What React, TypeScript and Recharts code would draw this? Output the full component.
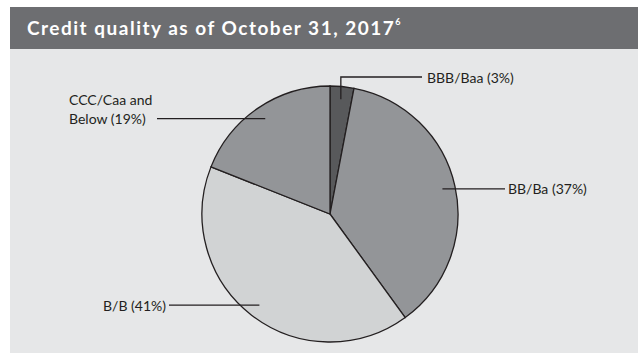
import { PieChart, Pie, Cell } from "recharts";

const names = ["BBB/Baa", "BB/Ba", "B/B", "CCC/Caa and Below"];
const values = [3, 37, 41, 19];
const colors = ["#58595b", "#939598", "#d1d3d4", "#939598"];

// label placement, offsets from the pie centre
const labelLayout = [
  { elbowDy: -137, lineDx: 92, textDx: 97, anchor: "start", wrap: 0 },
  { elbowDy: 0, lineDx: 175, textDx: 178, anchor: "start", wrap: 0 },
  { elbowDy: 0, lineDx: -161, textDx: -164, anchor: "end", wrap: 0 },
  { elbowDy: 0, lineDx: -173, textDx: -261, anchor: "start", wrap: 2 },
];

const data = names.map((name, i) => ({ name, value: values[i] }));
const RADIAN = Math.PI / 180;
const ink = "#231f20";

function renderLabel(props: any) {
  const { cx, cy, midAngle, outerRadius, index } = props;
  const layout = labelLayout[index];
  const r = outerRadius * 0.9;
  const ax = cx + r * Math.cos(-midAngle * RADIAN);
  const ay = cy + r * Math.sin(-midAngle * RADIAN);
  const text = `${names[index]} (${values[index]}%)`;
  const lineY = layout.elbowDy ? cy + layout.elbowDy : ay;
  const points = layout.elbowDy
    ? `${ax},${ay} ${ax},${lineY} ${cx + layout.lineDx},${lineY}`
    : `${ax},${ay} ${cx + layout.lineDx},${lineY}`;
  const words = text.split(" ");
  const lines = layout.wrap
    ? [words.slice(0, layout.wrap).join(" "), words.slice(layout.wrap).join(" ")]
    : [text];
  return (
    <g key={`label-${index}`}>
      <polyline points={points} fill="none" stroke={ink} strokeWidth={1.3} />
      {lines.map((ln, i) => (
        <text
          key={i}
          x={cx + layout.textDx}
          y={lineY - (lines.length - 1 - i) * 19}
          textAnchor={layout.anchor as any}
          dominantBaseline="central"
          fill={ink}
          fontSize={14}
          fontFamily="Lato, sans-serif"
        >
          {ln}
        </text>
      ))}
    </g>
  );
}

export default function App() {
  return (
    <div style={{ position: "absolute", left: 10, top: 7, width: 628 }}>
      <div
        style={{
          height: 42,
          background: "#6d6e71",
          color: "#ffffff",
          fontFamily: "Lato, sans-serif",
          fontWeight: 700,
          fontSize: 19,
          letterSpacing: 1.5,
          lineHeight: "42px",
          paddingLeft: 17,
          boxSizing: "border-box",
        }}
      >
        Credit quality as of October 31, 2017
        <sup style={{ fontSize: 9, verticalAlign: "top", lineHeight: "30px", letterSpacing: 0 }}>6</sup>
      </div>
      <PieChart
        width={628}
        height={304}
        margin={{ top: 0, right: 0, bottom: 0, left: 0 }}
        style={{ background: "#e6e7e8" }}
      >
        <Pie
          data={data}
          dataKey="value"
          nameKey="name"
          cx={320}
          cy={165}
          outerRadius={128}
          startAngle={90}
          endAngle={-270}
          stroke={ink}
          strokeWidth={1.3}
          label={renderLabel}
          labelLine={false}
          isAnimationActive={false}
        >
          {data.map((d, i) => (
            <Cell key={d.name} fill={colors[i]} />
          ))}
        </Pie>
      </PieChart>
    </div>
  );
}
